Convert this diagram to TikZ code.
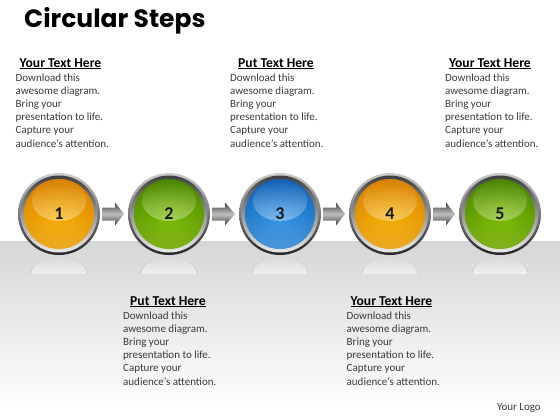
\documentclass[tikz,border=0pt]{standalone}
\usepackage{fontspec}
\setmainfont{Carlito}
\newfontfamily\titlefont{Poppins}
\usetikzlibrary{fadings,calc}
\definecolor{orgA}{HTML}{FFD54A}
\definecolor{orgB}{HTML}{F5AC00}
\definecolor{orgC}{HTML}{D88000}
\definecolor{grnA}{HTML}{B5E03A}
\definecolor{grnB}{HTML}{78B800}
\definecolor{grnC}{HTML}{4A8400}
\definecolor{bluA}{HTML}{80CBF8}
\definecolor{bluB}{HTML}{3093E2}
\definecolor{bluC}{HTML}{1560B5}
\definecolor{bodytxt}{HTML}{3A3A3A}
\newcommand{\stepball}[4]{%
  % #1 name, #2 center, #3 color prefix, #4 number
  \begin{scope}[shift={#2}]
    \fill[white, opacity=0.55, path fading=north] (-28,60) arc[start angle=180,end angle=360,x radius=28,y radius=17] -- cycle;
    \draw[black!40, line width=1pt, opacity=0.35, path fading=north] (-28,60) arc[start angle=180,end angle=360,x radius=28,y radius=17];
    \shade[top color=black!20, bottom color=black!85] (0,0) circle[radius=41];
    \shade[top color=black!75, bottom color=white!92!black] (0,0) circle[radius=38.5];
    \shade[top color=#3C, bottom color=#3A, middle color=#3B] (0,0) circle[radius=35];
    \shade[inner color=#3B, outer color=#3C, opacity=0.5] (0,0) circle[radius=35];
    \fill[white, opacity=0.35, path fading=north] (0,-13) ellipse[x radius=27, y radius=20];
    \node[font=\fontsize{18}{20}\selectfont\bfseries, text=black!90] (#1) at (0,0) {#4};
  \end{scope}}
\tikzset{
  head/.style={font=\fontsize{13.6}{15}\selectfont\bfseries, text=black, inner sep=0pt, anchor=base},
  bodyblock/.style={font=\fontsize{11}{13.2}\selectfont, text=bodytxt, align=left, inner sep=0pt, anchor=north west},
  steparrow/.style={top color=black!75, bottom color=black!75, middle color=black!25}
}
\begin{document}
\begin{tikzpicture}[x=1pt,y=-1pt]
\useasboundingbox (0,0) rectangle (560,420);
\fill[white] (0,0) rectangle (560,420);
\shade[top color=black!16, bottom color=white] (0,241) rectangle (560,410);
\node[font=\titlefont\fontsize{25}{28}\selectfont\bfseries, anchor=base west, inner sep=0pt] (title) at (24,28) {Circular Steps};
% circles
\stepball{s1}{(59,214)}{org}{1}
\stepball{s2}{(169,214)}{grn}{2}
\stepball{s3}{(280,214)}{blu}{3}
\stepball{s4}{(390,214)}{org}{4}
\stepball{s5}{(500,214)}{grn}{5}
% arrows
\foreach \a/\b in {s1/s2,s2/s3,s3/s4,s4/s5}{
  \path (\a) ++(43,0) coordinate (st) (\b) ++(-45,0) coordinate (en);
  \shade[steparrow] ($(st)+(0,-6.5)$) -- ($(st)+(13,-6.5)$) -- ($(st)+(13,-11.5)$) -- (en) -- ($(st)+(13,11.5)$) -- ($(st)+(13,6.5)$) -- ($(st)+(0,6.5)$) -- cycle;
}
% text blocks
\node[head] (h1) at (60.5,67) {\underline{Your Text Here}};
\node[bodyblock] (b1) at (15.5,73.2) {Download this\\awesome diagram.\\Bring your\\presentation to life.\\Capture your\\audience’s attention.};
\node[head] (h2) at (276,67) {\underline{Put Text Here}};
\node[bodyblock] (b2) at (230,73.2) {Download this\\awesome diagram.\\Bring your\\presentation to life.\\Capture your\\audience’s attention.};
\node[head] (h3) at (490,67) {\underline{Your Text Here}};
\node[bodyblock] (b3) at (445,73.2) {Download this\\awesome diagram.\\Bring your\\presentation to life.\\Capture your\\audience’s attention.};
\node[head] (h4) at (168,305) {\underline{Put Text Here}};
\node[bodyblock] (b4) at (123,311.2) {Download this\\awesome diagram.\\Bring your\\presentation to life.\\Capture your\\audience’s attention.};
\node[head] (h5) at (391.5,305) {\underline{Your Text Here}};
\node[bodyblock] (b5) at (346.5,311.2) {Download this\\awesome diagram.\\Bring your\\presentation to life.\\Capture your\\audience’s attention.};
\node[font=\fontsize{11}{12}\selectfont, text=bodytxt, anchor=base east, inner sep=0pt] (logo) at (541,410) {Your Logo};
\end{tikzpicture}
\end{document}
